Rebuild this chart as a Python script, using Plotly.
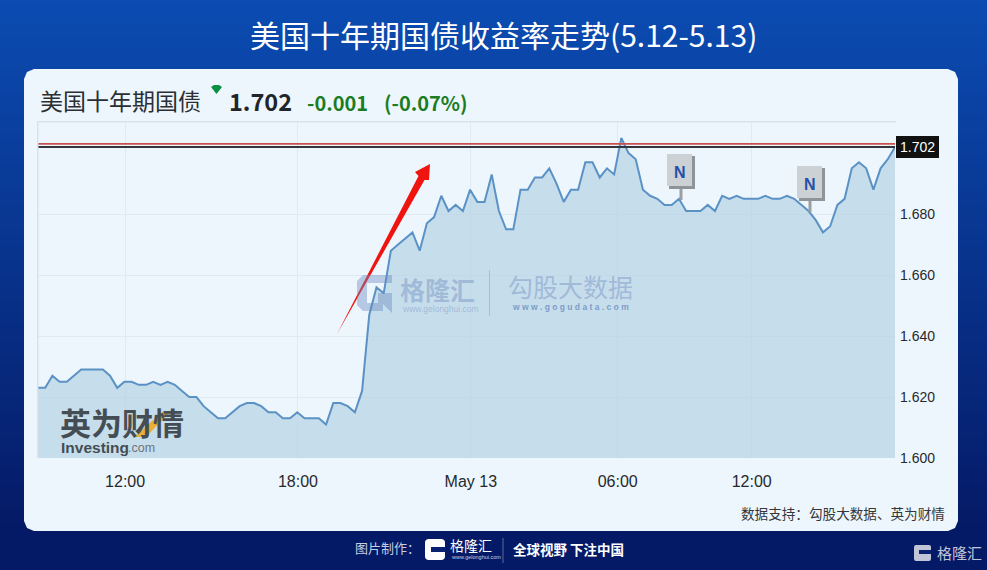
import plotly.graph_objects as go

# 15 minute closes of the US 10 year yield
yields = [
    1.623, 1.623, 1.627, 1.625, 1.625, 1.627, 1.629, 1.629, 1.629, 1.629,
    1.627, 1.623, 1.625, 1.625, 1.624, 1.624, 1.625, 1.624, 1.625, 1.624,
    1.622, 1.620, 1.620, 1.617, 1.615, 1.613, 1.613, 1.615, 1.617, 1.618,
    1.618, 1.617, 1.615, 1.615, 1.613, 1.613, 1.615, 1.613, 1.613, 1.613,
    1.611, 1.618, 1.618, 1.617, 1.615, 1.622, 1.647, 1.656, 1.654, 1.668,
    1.670, 1.672, 1.674, 1.668, 1.677, 1.679, 1.686, 1.681, 1.683, 1.681,
    1.688, 1.684, 1.684, 1.693, 1.681, 1.675, 1.675, 1.688, 1.688, 1.692,
    1.692, 1.695, 1.690, 1.684, 1.688, 1.688, 1.697, 1.697, 1.692, 1.695,
    1.693, 1.705, 1.700, 1.698, 1.688, 1.686, 1.685, 1.683, 1.683, 1.685,
    1.681, 1.681, 1.681, 1.683, 1.681, 1.686, 1.685, 1.686, 1.685, 1.685,
    1.685, 1.686, 1.685, 1.685, 1.686, 1.685, 1.683, 1.681, 1.678, 1.674,
    1.676, 1.683, 1.685, 1.695, 1.697, 1.695, 1.688, 1.695, 1.698, 1.702,
]
prev_close = 1.703
last_price = 1.702

x_tick_pos = [12.1, 36.1, 60.1, 80.5, 99.1]
x_tick_labels = ["12:00", "18:00", "May 13", "06:00", "12:00"]
y_ticks = [1.600, 1.620, 1.640, 1.660, 1.680]

CJK = "Noto Sans CJK SC"
ARIAL = "Liberation Sans"
W, H = 987, 570
L, R, T, B = 38, 895, 122, 458


# everything decorative is placed in picture pixels
def px(x):
    return (x - L) / (R - L)


def py(y):
    return (B - y) / (B - T)


def poly(points, fill, layer="above", line=None):
    d = "M" + " L".join(f"{px(x):.5f},{py(y):.5f}" for x, y in points) + " Z"
    return dict(type="path", xref="paper", yref="paper", path=d, fillcolor=fill,
                line=line or dict(width=0), layer=layer)


def box(x0, y0, x1, y1, fill, layer="above", line=None):
    return dict(type="rect", xref="paper", yref="paper", x0=px(x0), x1=px(x1),
                y0=py(y1), y1=py(y0), fillcolor=fill,
                line=line or dict(width=0), layer=layer)


def label(x, y, text, size, color, font=CJK, anchor="left"):
    return dict(xref="paper", yref="paper", x=px(x), y=py(y), text=text, showarrow=False,
                xanchor=anchor, yanchor="middle", font=dict(family=font, size=size, color=color))


def round_box(x0, y0, x1, y1, r):
    pts = []
    for cx, cy, a, b in [(x1 - r, y0 + r, 0, -1), (x1 - r, y1 - r, 1, 0),
                         (x0 + r, y1 - r, 0, 1), (x0 + r, y0 + r, -1, 0)]:
        pts.append((cx + a * r, cy + b * r))
        pts.append((cx + (a + b * -1) * r * 0.7, cy + (b + a) * r * 0.7))
        pts.append((cx - b * r, cy + a * r))
    return pts


shapes = []
# page background, dark navy at the bottom
top_col, bot_col = (12, 76, 178), (5, 26, 102)
for i in range(0, H, 6):
    t = min(i / 530, 1)
    col = tuple(int(a + (b - a) * t) for a, b in zip(top_col, bot_col))
    shapes.append(box(0, i, W, i + 7, f"rgb{col}", layer="below"))
shapes.append(poly(round_box(24, 69, 958, 531, 10), "#eef6fd", layer="below"))

# the chart only has a frame on its top and left edges
shapes.append(box(37, 121, 896, 122.5, "#d9e2ea"))
shapes.append(box(37, 121, 38.5, 458, "#d9e2ea"))

# N news flags
for x0, y0, stem_x, stem_end in [(667, 154, 681, 200), (797, 166, 810, 212)]:
    shapes.append(box(stem_x - 1.5, y0 + 30, stem_x + 1.5, stem_end, "#9a9fa3"))
    shapes.append(box(x0 + 2, y0 + 2, x0 + 28, y0 + 35, "#8f9498"))
    shapes.append(box(x0, y0, x0 + 25, y0 + 32, "#ccd1d6"))

# red arrow
shapes.append(poly([(337, 334), (418.5, 176), (415, 172), (430, 164), (429, 180), (424.5, 180)],
                   "#f0140f"))
# green marker beside the name
shapes.append(poly([(211, 87), (214, 85), (219, 85), (222, 87), (216.5, 94)], "#0b8f42"))
# black price tag
shapes.append(box(896, 136, 939, 158, "#111111"))

# watermark logo and divider
wm = "rgba(105,135,190,0.42)"
shapes.append(poly([(363, 275), (392, 275), (392, 283), (367, 283), (367, 303), (378, 303), (378, 293),
                    (392, 293), (392, 313), (383, 304), (383, 311), (363, 311), (357, 305), (357, 281)],
                   wm))
shapes.append(box(489, 270, 490, 316, "rgba(105,135,190,0.35)"))
# orange slash of the Investing logo
shapes.append(poly([(134, 437), (162, 412), (170, 412), (146, 437)], "rgba(236,170,40,0.9)"))

# footer logo pieces and divider
shapes.append(poly(round_box(425, 539, 445, 560, 3), "#ffffff"))
shapes.append(box(431, 547, 445, 552, "#0a2070"))
shapes.append(box(502.5, 538, 503.5, 563, "rgba(255,255,255,0.35)"))
shapes.append(poly(round_box(914, 545, 931, 561, 2), "rgba(255,255,255,0.75)"))
shapes.append(box(919, 550, 931, 554, "#0a2070"))

annotations = [
    label(503, 34, "美国十年期国债收益率走势(5.12-5.13)", 30, "#ffffff", anchor="center"),
    label(38, 100, "美国十年期国债", 23, "#2b2f33"),
    label(227, 101, "<b>1.702</b>", 23.5, "#222528"),
    label(304.5, 102, "<b>-0.001</b>", 20, "#1b7d23"),
    label(381.5, 102, "<b>(-0.07%)</b>", 20, "#1b7d23"),
    label(917.5, 147, "1.702", 14, "#ffffff", font=ARIAL, anchor="center"),
    label(679.5, 172, "<b>N</b>", 16, "#2450a8", font=ARIAL, anchor="center"),
    label(809.5, 184, "<b>N</b>", 16, "#2450a8", font=ARIAL, anchor="center"),
    label(398, 289, "<b>格隆汇</b>", 25, wm),
    label(400, 309, "www.gelonghui.com", 8.5, wm, font=ARIAL),
    label(506, 286, "勾股大数据", 25, wm),
    label(510, 307, "<b>w w w . g o g u d a t a . c o m</b>", 8.5, "rgba(90,125,185,0.7)", font=ARIAL),
    label(58, 421, "<b>英为财情</b>", 31, "#454d54"),
    label(59, 447, "<b>Investing</b>", 15.5, "#454d54", font=ARIAL),
    label(126, 448, ".com", 12.5, "#6d757b", font=ARIAL),
    label(947, 513, "数据支持：勾股大数据、英为财情", 13.6, "#33383c", anchor="right"),
    label(353, 547, "图片制作：", 13, "#c5cde3"),
    label(448, 545, "格隆汇", 14, "#ffffff"),
    label(449, 557, "www.gelonghui.com", 5.5, "#c5cde3", font=ARIAL),
    label(511, 549, "<b>全球视野 下注中国</b>", 13.5, "#ffffff"),
    label(935, 552, "格隆汇", 15, "rgba(255,255,255,0.75)"),
]

x_idx = list(range(len(yields)))
fig = go.Figure()
fig.add_trace(go.Scatter(x=x_idx, y=yields, mode="lines", fill="tozeroy",
                         fillcolor="rgba(176,208,226,0.65)",
                         line=dict(color="#5b92c6", width=2)))
# previous close (red) and last price (dark) lines
fig.add_trace(go.Scatter(x=[x_idx[0], x_idx[-1]], y=[prev_close, prev_close], mode="lines",
                         line=dict(color="#c9504f", width=1.8)))
fig.add_trace(go.Scatter(x=[x_idx[0], x_idx[-1]], y=[last_price, last_price], mode="lines",
                         line=dict(color="#33373b", width=2)))

fig.update_layout(
    width=W, height=H, showlegend=False,
    margin=dict(l=L, r=W - R, t=T, b=H - B),
    paper_bgcolor="#0a3a9a", plot_bgcolor="rgba(0,0,0,0)",
    shapes=shapes, annotations=annotations, hovermode=False,
)
fig.update_xaxes(range=[0, len(yields) - 1], tickmode="array", tickvals=x_tick_pos,
                 ticktext=x_tick_labels, ticks="", ticklabelstandoff=12,
                 tickfont=dict(family=ARIAL, size=16, color="#26292c"),
                 showgrid=True, gridcolor="#e0eaf3", gridwidth=1, zeroline=False)
fig.update_yaxes(side="right", range=[1.600, 1.7102], tickmode="array", tickvals=y_ticks,
                 tickformat=".3f", ticks="", ticklabelstandoff=4,
                 tickfont=dict(family=ARIAL, size=14, color="#26292c"),
                 showgrid=True, gridcolor="#e0eaf3", gridwidth=1, zeroline=False)

fig.write_html("out.html", config=dict(displayModeBar=False),
               post_script="document.body.style.margin='0';document.body.style.overflow='hidden';")
